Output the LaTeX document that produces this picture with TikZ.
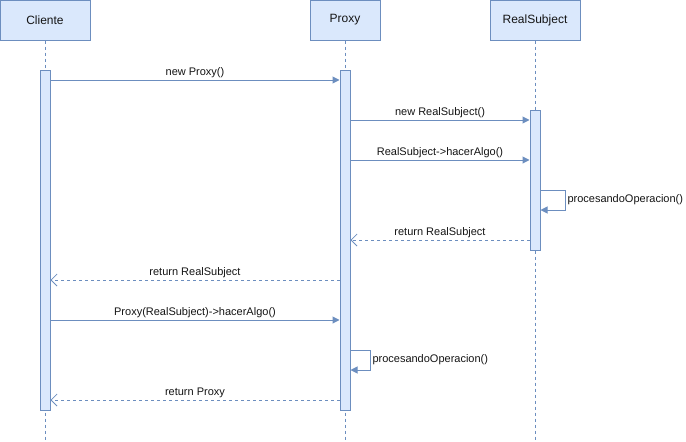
\documentclass[tikz,border=0pt]{standalone}
\usepackage{fontspec}
\setmainfont{Liberation Sans}
\usetikzlibrary{arrows.meta,positioning}
\definecolor{umlfill}{RGB}{218,232,252}
\definecolor{umlline}{RGB}{108,142,191}
\definecolor{umltext}{RGB}{20,20,20}
\tikzset{
  lifehead/.style={rectangle,draw=umlline,fill=umlfill,line width=1pt,
    minimum width=90pt,minimum height=40pt,inner sep=0pt,
    font=\fontsize{12}{14}\selectfont,text=umltext},
  actbar/.style={rectangle,draw=umlline,fill=umlfill,line width=1pt,
    minimum width=10pt,inner sep=0pt},
  lifeline/.style={draw=umlline,line width=1pt,dash pattern=on 3pt off 3pt},
  msgarrow/.style={draw=umlline,line width=1pt,
    -{Triangle[length=7pt,width=7pt,fill=umlline]}},
  retarrow/.style={draw=umlline,line width=1pt,dash pattern=on 3pt off 3pt,
    -{Straight Barb[length=6pt,width=12pt,line width=0.8pt]}},
  msglabel/.style={font=\fontsize{11}{13}\selectfont,text=umltext,inner sep=1.5pt},
}

\begin{document}
\begin{tikzpicture}[x=1pt,y=-1pt]
\useasboundingbox (0,0) rectangle (686,442);

%% ── lifelines ────────────────────────────────────────────────────────────
\node[lifehead] (cli) at (45,20) {Cliente};
\node[lifehead,minimum width=70pt] (prx) at (345,20) {Proxy};
\node[lifehead] (rsb) at (535,20) {RealSubject};
\coordinate (cliend) at (45,440);
\coordinate (prxend) at (345,440);
\coordinate (rsbend) at (535,440);
\draw[lifeline] (cli.south) -- (cliend);
\draw[lifeline] (prx.south) -- (prxend);
\draw[lifeline] (rsb.south) -- (rsbend);

%% ── activations ──────────────────────────────────────────────────────────
\node[actbar,minimum height=340pt] (cliact) at (45,240) {};
\node[actbar,minimum height=340pt] (prxact) at (345,240) {};
\node[actbar,minimum height=140pt] (rsbact) at (535,180) {};

%% ── message levels ───────────────────────────────────────────────────────
\coordinate (m1) at (0,80);
\coordinate (m2) at (0,120);
\coordinate (m3) at (0,160);
\coordinate (m4a) at (0,190);
\coordinate (m4b) at (0,210);
\coordinate (m5) at (0,240);
\coordinate (m6) at (0,280);
\coordinate (m7) at (0,320);
\coordinate (m8a) at (0,350);
\coordinate (m8b) at (0,370);
\coordinate (m9) at (0,400);

%% ── messages ─────────────────────────────────────────────────────────────
\draw[msgarrow] (cliact.east |- m1) -- node[msglabel,above]{new Proxy()}
                (prxact.west |- m1);
\draw[msgarrow] (prxact.east |- m2) -- node[msglabel,above]{new RealSubject()}
                (rsbact.west |- m2);
\draw[msgarrow] (prxact.east |- m3) -- node[msglabel,above]{RealSubject->hacerAlgo()}
                (rsbact.west |- m3);
% self call on RealSubject
\draw[msgarrow] (rsbact.east |- m4a) -- ++(25,0) |-
                node[msglabel,right,pos=0.25]{procesandoOperacion()}
                (rsbact.east |- m4b);
\draw[retarrow] (rsbact.west |- m5) -- node[msglabel,above]{return RealSubject}
                (prxact.east |- m5);
\draw[retarrow] (prxact.west |- m6) -- node[msglabel,above]{return RealSubject}
                (cliact.east |- m6);
\draw[msgarrow] (cliact.east |- m7) -- node[msglabel,above]{Proxy(RealSubject)->hacerAlgo()}
                (prxact.west |- m7);
% self call on Proxy
\draw[msgarrow] (prxact.east |- m8a) -- ++(20,0) |-
                node[msglabel,right,pos=0.25]{procesandoOperacion()}
                (prxact.east |- m8b);
\draw[retarrow] (prxact.west |- m9) -- node[msglabel,above]{return Proxy}
                (cliact.east |- m9);

\end{tikzpicture}
\end{document}
